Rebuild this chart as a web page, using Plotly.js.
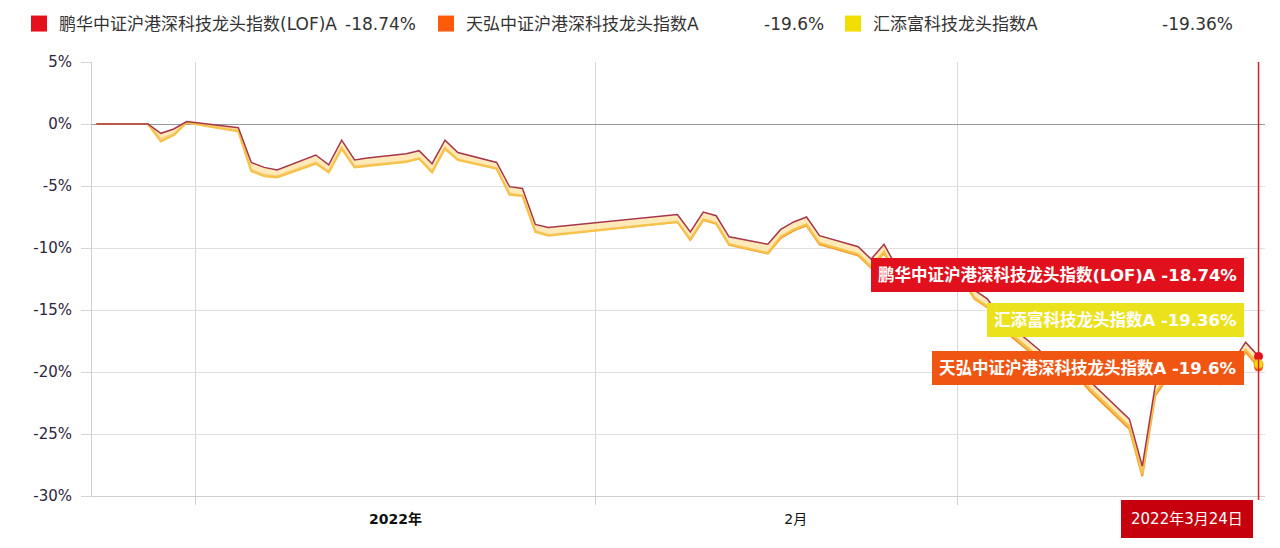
<!DOCTYPE html>
<html>
<head>
<meta charset="utf-8">
<script src="https://cdn.plot.ly/plotly-3.0.1.min.js"></script>
<style>
  html, body { margin: 0; padding: 0; background: #ffffff; }
  #chart { width: 1280px; height: 548px; }
</style>
</head>
<body>
<div id="chart"></div>
<script>
// ---- data ----
const dates = [
  '2021-12-24','2021-12-27','2021-12-28','2021-12-29','2021-12-30','2021-12-31',
  '2022-01-04','2022-01-05','2022-01-06','2022-01-07',
  '2022-01-10','2022-01-11','2022-01-12','2022-01-13','2022-01-14',
  '2022-01-17','2022-01-18','2022-01-19','2022-01-20','2022-01-21',
  '2022-01-24','2022-01-25','2022-01-26','2022-01-27','2022-01-28',
  '2022-02-07','2022-02-08','2022-02-09','2022-02-10','2022-02-11',
  '2022-02-14','2022-02-15','2022-02-16','2022-02-17','2022-02-18',
  '2022-02-21','2022-02-22','2022-02-23','2022-02-24','2022-02-25',
  '2022-02-28','2022-03-01','2022-03-02','2022-03-03','2022-03-04',
  '2022-03-07','2022-03-08','2022-03-09','2022-03-10','2022-03-11',
  '2022-03-14','2022-03-15','2022-03-16','2022-03-17','2022-03-18',
  '2022-03-21','2022-03-22','2022-03-23','2022-03-24'
];

const penghua = [
  0, 0, 0, -0.75, -0.4, 0.2,
  -0.3, -3.1, -3.5, -3.7,
  -2.5, -3.3, -1.3, -2.9, -2.75,
  -2.4, -2.15, -3.2, -1.3, -2.3,
  -3.1, -5.05, -5.2, -8.1, -8.35,
  -7.3, -8.7, -7.1, -7.4, -9.1,
  -9.7, -8.5, -7.9, -7.5, -9.0,
  -9.9, -10.9, -9.7, -11.6, -11.4,
  -11.9, -11.7, -13.4, -14.1, -15.6,
  -18.2, -19.3, -20.0, -19.6, -20.8,
  -23.8, -27.6, -21.1, -19.6, -19.3,
  -20.2, -19.2, -17.6, -18.74
];

const tianhong = [
  0, 0, 0, -1.2, -0.8, 0.15,
  -0.5, -3.7, -4.1, -4.2,
  -3.1, -3.8, -1.9, -3.4, -3.3,
  -3.0, -2.75, -3.8, -1.9, -2.85,
  -3.55, -5.6, -5.75, -8.6, -8.95,
  -7.9, -9.35, -7.75, -8.05, -9.75,
  -10.45, -9.2, -8.6, -8.2, -9.7,
  -10.6, -11.6, -10.4, -12.3, -12.1,
  -12.6, -12.4, -14.1, -14.8, -16.4,
  -19.0, -20.1, -20.8, -20.4, -21.6,
  -24.6, -28.4, -21.9, -20.4, -20.1,
  -21.0, -20.0, -18.4, -19.6
];

const huitianfu = [
  0, 0, 0, -1.4, -0.9, 0.1,
  -0.6, -3.8, -4.2, -4.3,
  -3.2, -3.9, -2.0, -3.5, -3.4,
  -3.05, -2.8, -3.9, -2.0, -2.9,
  -3.6, -5.7, -5.8, -8.7, -9.0,
  -7.9, -9.3, -7.7, -8.0, -9.7,
  -10.4, -9.1, -8.5, -8.1, -9.6,
  -10.5, -11.5, -10.3, -12.2, -12.0,
  -12.5, -12.3, -14.0, -14.7, -16.2,
  -18.8, -19.9, -20.6, -20.2, -21.4,
  -24.4, -28.2, -21.7, -20.2, -19.9,
  -20.8, -19.8, -18.2, -19.36
];

const seriesNames = ['鹏华中证沪港深科技龙头指数(LOF)A', '天弘中证沪港深科技龙头指数A', '汇添富科技龙头指数A'];
const seriesLast = ['-18.74%', '-19.6%', '-19.36%'];
const legendColors = ['#e5101b', '#ff5a0a', '#f2de00'];
const yTickVals = [5, 0, -5, -10, -15, -20, -25, -30];
const xTickVals = ['2022-01-16 12:00', '2022-02-16 12:00'];
const xTickText = ['<b>2022年</b>', '2月'];
const hoverDate = '2022年3月24日';

// source chart stamps each day at 08:00 (UTC midnight shown in Beijing time)
const xs = dates.map(d => d + ' 08:00');
const lastX = xs[xs.length - 1];
const lastIdx = xs.length - 1;

const FONT = 'DejaVu Sans, Noto Sans CJK SC, sans-serif';

const traces = [
  { type: 'scatter', mode: 'lines', x: xs, y: tianhong, showlegend: false, hoverinfo: 'skip',
    line: { color: '#f29a2e', width: 2 } },
  { type: 'scatter', mode: 'lines', x: xs, y: huitianfu, showlegend: false, hoverinfo: 'skip',
    line: { color: '#f6c24a', width: 2.2 } },
  { type: 'scatter', mode: 'lines', x: xs, y: penghua, showlegend: false, hoverinfo: 'skip',
    fill: 'tonexty', fillcolor: 'rgba(254,226,160,0.75)',
    line: { color: '#a8364a', width: 1.5 } },
  // end-point dots
  { type: 'scatter', mode: 'markers', x: [lastX], y: [tianhong[lastIdx]], showlegend: false, hoverinfo: 'skip',
    marker: { color: legendColors[1], size: 9 } },
  { type: 'scatter', mode: 'markers', x: [lastX], y: [penghua[lastIdx]], showlegend: false, hoverinfo: 'skip',
    marker: { color: legendColors[0], size: 9 } },
  { type: 'scatter', mode: 'markers', x: [lastX], y: [huitianfu[lastIdx]], showlegend: false, hoverinfo: 'skip',
    marker: { color: legendColors[2], size: 9, line: { color: '#f0a020', width: 1 } } }
];

// legend entries (square swatches)
seriesNames.forEach((n, i) => {
  traces.push({ type: 'scatter', mode: 'markers', x: [null], y: [null], name: n,
    marker: { symbol: 'square', size: 20, color: legendColors[i] } });
});

const paperX = px => (px - 92) / 1173;
const paperY = py => (496 - py) / 434;

const annotations = [];
// legend values, right-aligned
const valRight = [418, 826, 1235];
seriesLast.forEach((v, i) => {
  annotations.push({ xref: 'paper', yref: 'paper', x: paperX(valRight[i]), y: paperY(24),
    xanchor: 'right', yanchor: 'middle', showarrow: false, text: v,
    font: { family: FONT, size: 17, color: '#333' } });
});
// hover-style labels
const boxCenters = [275, 368, 320];
const boxColors = ['#e0101c', '#f05512', '#ece21c'];
seriesNames.forEach((n, i) => {
  annotations.push({ xref: 'x', yref: 'paper', x: lastX, y: paperY(boxCenters[i]),
    xanchor: 'right', yanchor: 'middle', xshift: -15, showarrow: false,
    text: '<b>' + n + ' ' + seriesLast[i] + '</b>',
    bgcolor: boxColors[i], bordercolor: boxColors[i], borderpad: 6,
    font: { family: FONT, size: 16.5, color: '#ffffff' } });
});
// date label at the crosshair
annotations.push({ xref: 'x', yref: 'paper', x: lastX, y: paperY(519),
  xanchor: 'right', yanchor: 'middle', xshift: -6, showarrow: false,
  text: hoverDate, bgcolor: '#c6000d', bordercolor: '#c6000d', borderpad: 9,
  font: { family: FONT, size: 15, color: '#ffffff' } });

const layout = {
  width: 1280, height: 548,
  margin: { l: 92, r: 15, t: 62, b: 52, autoexpand: false },
  paper_bgcolor: '#ffffff', plot_bgcolor: '#ffffff',
  showlegend: true,
  legend: { orientation: 'h', traceorder: 'normal', x: paperX(19), xanchor: 'left', y: paperY(24), yanchor: 'middle',
    entrywidth: 362, entrywidthmode: 'pixels', itemwidth: 30, itemsizing: 'trace',
    font: { family: FONT, size: 17, color: '#333' }, bgcolor: 'rgba(0,0,0,0)' },
  xaxis: {
    type: 'date', range: ['2021-12-24 00:00', '2022-03-24 20:00'],
    tickmode: 'array', tickvals: xTickVals, ticktext: xTickText,
    showgrid: false, ticks: 'outside', ticklen: 10, tickcolor: 'rgba(0,0,0,0)',
    tickfont: { family: FONT, size: 14, color: '#111' },
    showline: true, linecolor: '#cfcfcf', linewidth: 1, zeroline: false,
    minor: { tickmode: 'linear', tick0: '2022-01-01', dtick: 'M1', showgrid: true,
      gridcolor: '#d8d8d8', gridwidth: 1, ticks: 'outside', ticklen: 8, tickcolor: '#cfcfcf' }
  },
  yaxis: {
    range: [-30, 5], tickmode: 'array', tickvals: yTickVals,
    ticktext: yTickVals.map(v => v + '%'),
    showgrid: true, gridcolor: '#e0e0e0', gridwidth: 1,
    zeroline: true, zerolinecolor: '#9a9a9a', zerolinewidth: 1,
    showline: true, linecolor: '#cfcfcf', linewidth: 1,
    ticks: 'outside', ticklen: 10, tickcolor: '#d6d6d6', ticklabelstandoff: 6,
    tickfont: { family: FONT, size: 15, color: '#2e2540' }
  },
  shapes: [
    { type: 'line', xref: 'x', yref: 'paper', x0: lastX, x1: lastX, y0: paperY(500), y1: 1,
      line: { color: '#d52226', width: 1.5 } }
  ],
  annotations: annotations
};

Plotly.newPlot('chart', traces, layout, { displayModeBar: false, staticPlot: true });
</script>
</body>
</html>
